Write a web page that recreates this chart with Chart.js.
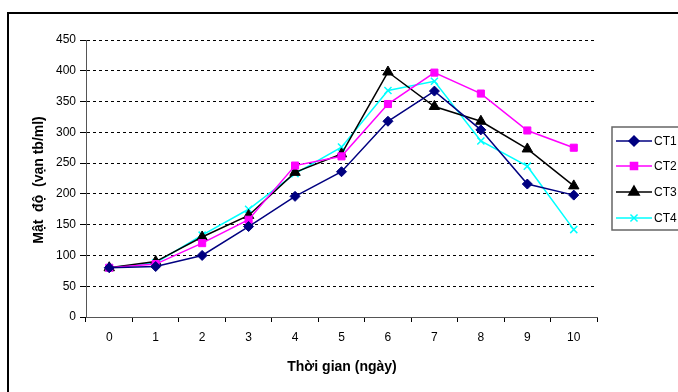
<!DOCTYPE html>
<html>
<head>
<meta charset="utf-8">
<script src="https://cdn.jsdelivr.net/npm/chart.js@4/dist/chart.umd.min.js"></script>
<style>
  html, body { margin: 0; padding: 0; background: #fff; overflow: hidden; }
  #wrap { width: 678px; height: 392px; position: relative; }
</style>
</head>
<body>
<div id="wrap"><canvas id="densityChart" width="678" height="392"></canvas></div>
<script>
// Days on x axis
const days = ['0', '1', '2', '3', '4', '5', '6', '7', '8', '9', '10'];

// Density values (vạn tb/ml)
const ct1 = [80, 82, 100, 147, 196, 236, 318, 367, 304, 216, 198];
const ct2 = [80, 86, 120, 158, 246, 261, 346, 397, 363, 303, 275];
const ct3 = [80, 90, 130, 165, 235, 265, 398, 342, 318, 273, 213];
const ct4 = [80, 88, 133, 175, 233, 276, 368, 383, 286, 245, 142];

const seriesNames = ['CT1', 'CT2', 'CT3', 'CT4'];
const yTicks = { min: 0, max: 450, step: 50 };

const xTitle = 'Thời gian (ngày)';
const yTitle = 'Mật  độ  (vạn tb/ml)';

const FONT = 'Liberation Sans, Arial, sans-serif';

// outer frame of the figure
const framePlugin = {
    id: 'frame',
    beforeDraw(chart) {
        const ctx = chart.ctx;
        ctx.save();
        ctx.fillStyle = '#fff';
        ctx.fillRect(0, 0, chart.width, chart.height);
        ctx.strokeStyle = '#000';
        ctx.lineWidth = 2;
        ctx.strokeRect(8, 13, 700, 400);
        ctx.restore();
    }
};

// axis titles, placed like the original
const titlePlugin = {
    id: 'axisTitles',
    afterDraw(chart) {
        const ctx = chart.ctx;
        ctx.save();
        ctx.fillStyle = '#000';
        ctx.font = 'bold 14px ' + FONT;
        ctx.textAlign = 'center';
        ctx.textBaseline = 'middle';
        ctx.fillText(xTitle, 342, 367);
        ctx.translate(39, 180);
        ctx.rotate(-Math.PI / 2);
        ctx.fillText(yTitle, 0, 0);
        ctx.restore();
    }
};

// legend box on the right, clipped by the edge like the original
const legendPlugin = {
    id: 'sideLegend',
    afterDraw(chart) {
        const ctx = chart.ctx;
        const x0 = 612, y0 = 127, w = 90, h = 103;
        ctx.save();
        ctx.strokeStyle = '#666';
        ctx.lineWidth = 1.5;
        ctx.strokeRect(x0, y0, w, h);
        const rows = [141, 166, 192, 218];
        chart.data.datasets.forEach((ds, i) => {
            const y = rows[i];
            ctx.strokeStyle = ds.borderColor;
            ctx.lineWidth = ds.borderWidth;
            ctx.beginPath();
            ctx.moveTo(616, y);
            ctx.lineTo(652, y);
            ctx.stroke();
            ctx.fillStyle = ds.pointBackgroundColor;
            ctx.strokeStyle = ds.pointBorderColor;
            Chart.helpers.drawPoint(ctx, {
                pointStyle: ds.pointStyle,
                radius: ds.pointRadius,
                borderWidth: ds.pointBorderWidth,
                rotation: 0
            }, 634, y);
            ctx.fillStyle = '#000';
            ctx.font = '12px ' + FONT;
            ctx.textBaseline = 'middle';
            ctx.fillText(ds.label, 654, y + 1);
        });
        ctx.restore();
    }
};

function series(label, data, color, style, radius) {
    return {
        label: label,
        data: data,
        borderColor: color,
        backgroundColor: color,
        borderWidth: 1.5,
        pointStyle: style,
        pointRadius: radius,
        pointHoverRadius: radius,
        pointBackgroundColor: color,
        pointBorderColor: color,
        pointBorderWidth: style === 'crossRot' ? 1.5 : 1,
        tension: 0,
        fill: false
    };
}

const ctx = document.getElementById('densityChart').getContext('2d');
new Chart(ctx, {
    type: 'line',
    data: {
        labels: days,
        datasets: [
            series(seriesNames[0], ct1, '#000080', 'rectRot', 5),
            series(seriesNames[1], ct2, '#FF00FF', 'rect', 5),
            series(seriesNames[2], ct3, '#000000', 'triangle', 6),
            series(seriesNames[3], ct4, '#00FFFF', 'crossRot', 5)
        ]
    },
    options: {
        responsive: false,
        animation: false,
        devicePixelRatio: 1,
        layout: { padding: { left: 0, top: 40, right: 81, bottom: 0 } },
        plugins: {
            legend: { display: false },
            tooltip: { enabled: false }
        },
        scales: {
            x: {
                offset: true,
                afterFit: s => { s.height = 75; },
                grid: {
                    offset: true,
                    drawOnChartArea: false,
                    drawTicks: true,
                    tickLength: 5,
                    color: '#000'
                },
                border: { display: true, color: '#555', width: 1 },
                ticks: {
                    color: '#000',
                    padding: 8,
                    font: { family: FONT, size: 12 },
                    maxRotation: 0
                },
                title: { display: false }
            },
            y: {
                min: yTicks.min,
                max: yTicks.max,
                afterFit: s => { s.width = 86; },
                grid: {
                    color: '#000',
                    lineWidth: 1,
                    tickBorderDash: [],
                    tickLength: 6
                },
                border: { display: true, color: '#555', width: 1, dash: [3, 3] },
                ticks: {
                    stepSize: yTicks.step,
                    color: '#000',
                    padding: 4,
                    font: { family: FONT, size: 12 }
                },
                title: { display: false }
            }
        }
    },
    plugins: [framePlugin, titlePlugin, legendPlugin]
});
</script>
</body>
</html>
